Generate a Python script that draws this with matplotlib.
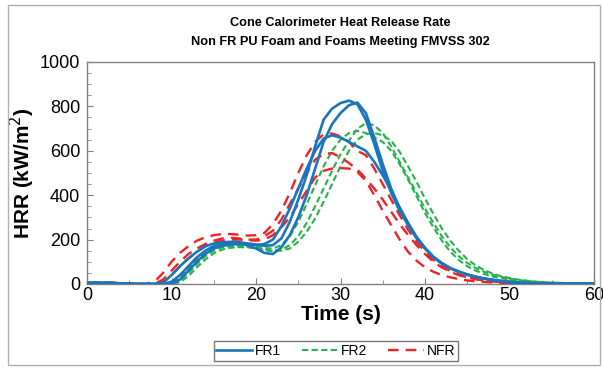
import matplotlib.pyplot as plt
from matplotlib.patches import Rectangle
from matplotlib.ticker import MultipleLocator

plt.rcParams['font.family'] = ['Liberation Sans', 'DejaVu Sans']

# time axis (s)
time = list(range(0, 61))

# FR1 samples (solid blue)
fr1_a = [5, 6, 6, 5, 3, 1, 0, 0, 0, 5, 40, 80, 115, 145, 170, 182, 188, 190, 188, 183,
         178, 172, 175, 205, 280, 380, 490, 620, 740, 790, 815, 826, 810, 740, 630, 510,
         410, 330, 265, 205, 160, 120, 92, 70, 55, 42, 32, 24, 18, 13, 9, 6, 4, 3, 2,
         2, 1, 1, 1, 1, 1]
fr1_b = [4, 5, 5, 4, 3, 1, 0, 0, 0, 0, 10, 40, 80, 120, 150, 170, 180, 185, 183, 175,
         160, 140, 135, 165, 220, 300, 400, 520, 640, 720, 770, 805, 817, 770, 660, 540,
         430, 340, 270, 210, 162, 122, 94, 72, 56, 43, 33, 25, 19, 14, 10, 7, 5, 3, 2,
         2, 1, 1, 1, 1, 1]
fr1_c = [3, 4, 4, 4, 2, 1, 0, 0, 0, 0, 0, 20, 60, 100, 135, 160, 172, 178, 180, 178,
         175, 180, 200, 260, 340, 430, 520, 600, 655, 670, 660, 640, 620, 600, 550, 490,
         420, 345, 275, 212, 162, 122, 93, 71, 55, 42, 32, 24, 18, 13, 9, 6, 4, 3, 2,
         2, 1, 1, 1, 1, 1]

# FR2 samples (green dashed)
fr2_a = [4, 5, 5, 4, 3, 1, 0, 0, 0, 0, 0, 15, 50, 90, 125, 150, 165, 170, 170, 168,
         162, 155, 150, 155, 175, 215, 275, 350, 430, 510, 585, 645, 700, 724, 715, 680,
         620, 550, 480, 410, 340, 275, 215, 165, 125, 95, 72, 55, 42, 32, 25, 18, 14, 10,
         8, 6, 5, 4, 3, 2, 2]
fr2_b = [3, 4, 4, 3, 2, 1, 0, 0, 0, 0, 5, 30, 70, 110, 140, 160, 170, 175, 175, 172,
         168, 162, 160, 175, 215, 280, 360, 445, 530, 600, 650, 680, 690, 680, 660, 640,
         600, 540, 470, 395, 320, 255, 195, 145, 108, 80, 60, 45, 34, 26, 20, 15, 11, 8,
         6, 5, 4, 3, 2, 2, 1]
fr2_c = [3, 3, 4, 3, 2, 1, 0, 0, 0, 0, 0, 8, 35, 75, 110, 138, 155, 163, 166, 165,
         160, 152, 148, 150, 160, 190, 235, 295, 370, 450, 530, 600, 650, 675, 680, 670,
         645, 595, 530, 460, 385, 315, 250, 195, 150, 112, 84, 63, 47, 35, 27, 20, 15, 11,
         8, 6, 5, 4, 3, 2, 2]

# NFR samples (red dashed)
nfr_a = [6, 7, 7, 6, 4, 2, 0, 0, 10, 50, 100, 140, 170, 195, 210, 220, 225, 225, 222, 218,
         220, 230, 270, 330, 410, 500, 580, 640, 675, 678, 665, 640, 600, 580, 520, 450,
         380, 310, 245, 190, 145, 108, 80, 58, 42, 30, 22, 16, 12, 9, 7, 5, 4, 3, 2,
         2, 1, 1, 1, 1, 1]
nfr_b = [5, 6, 6, 5, 3, 1, 0, 0, 0, 20, 60, 100, 135, 160, 180, 195, 205, 208, 205, 200,
         200, 215, 240, 290, 360, 430, 500, 560, 585, 590, 570, 545, 515, 475, 430, 380,
         325, 270, 220, 175, 135, 100, 75, 55, 40, 30, 22, 16, 12, 9, 7, 5, 4, 3, 2,
         2, 1, 1, 1, 1, 1]
nfr_c = [4, 5, 5, 4, 3, 1, 0, 0, 0, 10, 40, 80, 115, 145, 170, 185, 195, 200, 200, 198,
         195, 200, 220, 255, 300, 360, 420, 480, 510, 520, 522, 520, 505, 465, 400, 330,
         265, 200, 145, 105, 75, 55, 40, 30, 22, 16, 12, 9, 7, 5, 4, 3, 2, 2, 1,
         1, 1, 1, 1, 1, 1]

blue = '#1b75bb'
green = '#25b24a'
red = '#ec2327'

fig = plt.figure(figsize=(6.03, 3.69), dpi=100)
fig.patches.append(Rectangle((8 / 603, 1 - 365 / 369), 592 / 603, 360 / 369,
                             transform=fig.transFigure, fill=False,
                             edgecolor='#b0b0b0', linewidth=1.0))
ax = fig.add_axes([87 / 603, 1 - 284 / 369, 507 / 603, 222 / 369])

for i, y in enumerate([fr2_a, fr2_b, fr2_c]):
    ax.plot(time, y, color=green, lw=1.5, dashes=(3, 1.6),
            label='FR2' if i == 0 else None, zorder=2)
for i, y in enumerate([nfr_a, nfr_b, nfr_c]):
    ax.plot(time, y, color=red, lw=1.7, dashes=(4.5, 3),
            label='NFR' if i == 0 else None, zorder=3)
for i, y in enumerate([fr1_a, fr1_b, fr1_c]):
    ax.plot(time, y, color=blue, lw=1.9,
            label='FR1' if i == 0 else None, zorder=4)

ax.set_xlim(0, 60)
ax.set_ylim(0, 1000)
ax.xaxis.set_major_locator(MultipleLocator(10))
ax.xaxis.set_minor_locator(MultipleLocator(5))
ax.yaxis.set_major_locator(MultipleLocator(200))
ax.yaxis.set_minor_locator(MultipleLocator(50))
ax.tick_params(which='both', direction='in', color='#808080', labelsize=13,
               top=False, right=False)
ax.tick_params(axis='x', pad=2)
ax.tick_params(axis='y', pad=5)
ax.tick_params(which='major', length=4)
ax.tick_params(which='minor', length=3)
for s in ax.spines.values():
    s.set_color('#808080')
    s.set_linewidth(1.0)

ax.set_xlabel('Time (s)', fontsize=15, fontweight='bold', labelpad=1)
ax.set_ylabel('HRR (kW/m$^2$)', fontsize=15, fontweight='bold', labelpad=2)
fig.text(340 / 603, 1 - 23 / 369, 'Cone Calorimeter Heat Release Rate',
         ha='center', va='center', fontsize=9.2, fontweight='bold')
fig.text(340 / 603, 1 - 42 / 369, 'Non FR PU Foam and Foams Meeting FMVSS 302',
         ha='center', va='center', fontsize=9.2, fontweight='bold')

handles, labels = ax.get_legend_handles_labels()
order = [labels.index(n) for n in ['FR1', 'FR2', 'NFR']]
leg = fig.legend([handles[i] for i in order], [labels[i] for i in order],
                 loc='center', bbox_to_anchor=(336 / 603, 1 - 351 / 369), ncol=3,
                 fontsize=10, frameon=True, fancybox=False, borderpad=0.2,
                 handlelength=2.6, handletextpad=0.2, columnspacing=1.5)
leg.get_frame().set_edgecolor('#555555')
leg.get_frame().set_linewidth(1.0)

fig.savefig('out.png', dpi=100)
